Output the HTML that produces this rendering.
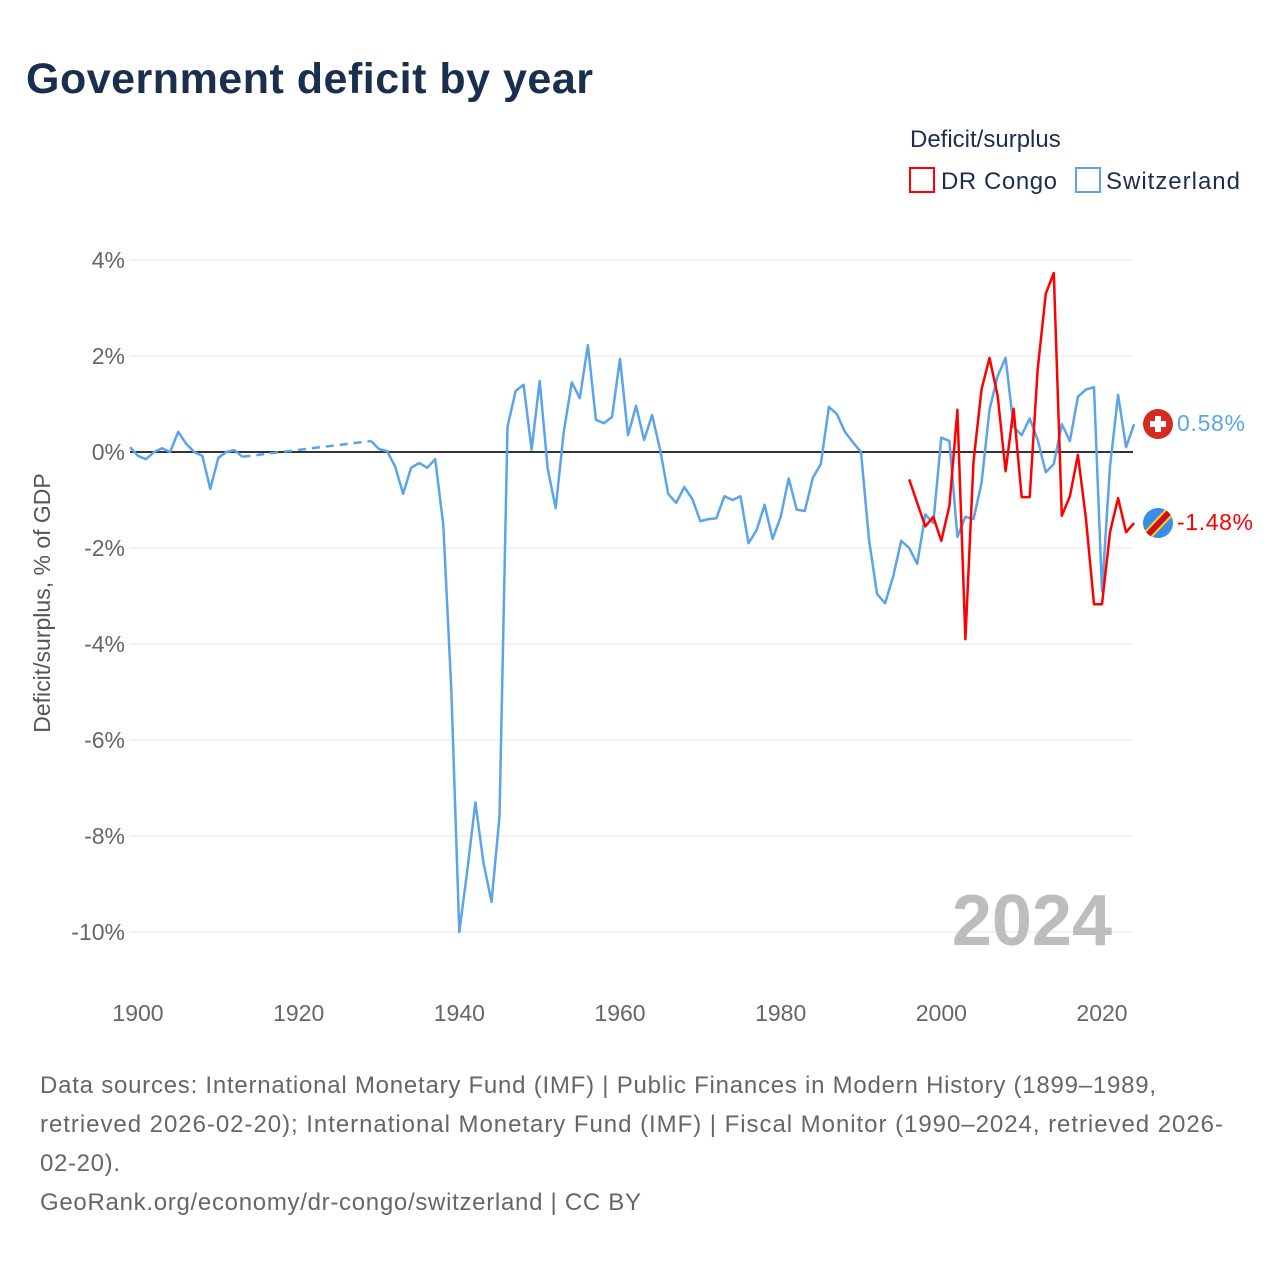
<!DOCTYPE html>
<html><head><meta charset="utf-8"><style>
body{margin:0;background:#fff;font-family:"Liberation Sans",sans-serif;}
#wrap{position:relative;width:1280px;height:1280px;overflow:hidden;}
</style></head><body>
<div id="wrap">
<svg id="chart" width="1280" height="1280" xmlns="http://www.w3.org/2000/svg" style="font-family:'Liberation Sans',sans-serif">
<text x="26" y="93" font-size="43" font-weight="bold" fill="#1a2e4d" textLength="567">Government deficit by year</text>
<text x="910" y="147" font-size="24" fill="#1a2e4d">Deficit/surplus</text>
<g><rect x="910" y="168" width="24" height="24" fill="none" stroke="#ff0000" stroke-width="2"/><text x="941" y="189" font-size="24" fill="#1a2e4d" textLength="116">DR Congo</text></g>
<g><rect x="1076" y="168" width="24" height="24" fill="none" stroke="#5ba4ea" stroke-width="2"/><text x="1106" y="189" font-size="24" fill="#1a2e4d" textLength="134">Switzerland</text></g>
<g id="grid"></g>
<g id="yticks"></g>
<g id="xticks"></g>
<text transform="translate(50,603) rotate(-90)" text-anchor="middle" font-size="23" fill="#555">Deficit/surplus, % of GDP</text>
<text x="1112" y="945" text-anchor="end" font-size="72" font-weight="bold" fill="#bdbdbd">2024</text>
<g id="series"></g>
<g>
<circle cx="1158" cy="424" r="15" fill="#d52b1e"/><rect x="1155" y="416" width="6" height="16" fill="#fff"/><rect x="1150" y="421" width="16" height="6" fill="#fff"/>
<text x="1177" y="431" font-size="23" fill="#5ba4ea" textLength="68">0.58%</text></g>
<g>
<clipPath id="cc"><circle cx="1158" cy="523" r="15"/></clipPath>
<g clip-path="url(#cc)"><rect x="1140" y="505" width="36" height="36" fill="#3a8de6"/><line x1="1142" y1="541" x2="1176" y2="505" stroke="#f7d618" stroke-width="10"/><line x1="1142" y1="541" x2="1176" y2="505" stroke="#ce1021" stroke-width="6"/></g>
<text x="1177" y="530" font-size="23" fill="#ff0000" textLength="76">-1.48%</text></g>
<text x="40" y="1093" font-size="24" fill="#666" textLength="1116">Data sources: International Monetary Fund (IMF) | Public Finances in Modern History (1899–1989,</text>
<text x="40" y="1132" font-size="24" fill="#666" textLength="1183">retrieved 2026-02-20); International Monetary Fund (IMF) | Fiscal Monitor (1990–2024, retrieved 2026-</text>
<text x="40" y="1171" font-size="24" fill="#666" textLength="80">02-20).</text>
<text x="40" y="1210" font-size="24" fill="#666" textLength="601">GeoRank.org/economy/dr-congo/switzerland | CC BY</text>
</svg></div>
<script>
const yTickValues=[4,2,0,-2,-4,-6,-8,-10];
const xTickYears=[1900,1920,1940,1960,1980,2000,2020];
const chYears1=[1899,1900,1901,1902,1903,1904,1905,1906,1907,1908,1909,1910,1911,1912,1913];
const chVals1=[0.1,-0.08,-0.15,0,0.08,0,0.42,0.17,0,-0.08,-0.77,-0.12,0,0.04,-0.1];
const chYears2=[1929,1930,1931,1932,1933,1934,1935,1936,1937,1938,1939,1940,1941,1942,1943,1944,1945,1946,1947,1948,1949,1950,1951,1952,1953,1954,1955,1956,1957,1958,1959,1960,1961,1962,1963,1964,1965,1966,1967,1968,1969,1970,1971,1972,1973,1974,1975,1976,1977,1978,1979,1980,1981,1982,1983,1984,1985,1986,1987,1988,1989,1990,1991,1992,1993,1994,1995,1996,1997,1998,1999,2000,2001,2002,2003,2004,2005,2006,2007,2008,2009,2010,2011,2012,2013,2014,2015,2016,2017,2018,2019,2020,2021,2022,2023,2024];
const chVals2=[0.23,0.06,0.02,-0.3,-0.87,-0.33,-0.23,-0.33,-0.15,-1.52,-4.95,-10,-8.7,-7.3,-8.55,-9.37,-7.6,0.52,1.27,1.4,0.05,1.48,-0.35,-1.17,0.43,1.45,1.12,2.23,0.67,0.6,0.73,1.94,0.35,0.96,0.25,0.77,0.04,-0.87,-1.06,-0.73,-0.98,-1.44,-1.4,-1.38,-0.92,-1.0,-0.92,-1.9,-1.63,-1.1,-1.81,-1.35,-0.55,-1.2,-1.23,-0.54,-0.25,0.94,0.79,0.42,0.2,0,-1.83,-2.96,-3.15,-2.6,-1.85,-2.0,-2.33,-1.3,-1.48,0.3,0.23,-1.77,-1.35,-1.4,-0.65,0.88,1.58,1.96,0.52,0.35,0.7,0.25,-0.42,-0.25,0.58,0.23,1.15,1.3,1.35,-2.9,-0.3,1.19,0.1,0.58];
const cdYears=[1996,1997,1998,1999,2000,2001,2002,2003,2004,2005,2006,2007,2008,2009,2010,2011,2012,2013,2014,2015,2016,2017,2018,2019,2020,2021,2022,2023,2024];
const cdVals=[-0.57,-1.06,-1.55,-1.35,-1.85,-1.12,0.88,-3.9,-0.2,1.3,1.96,1.18,-0.4,0.9,-0.94,-0.94,1.73,3.3,3.73,-1.33,-0.92,-0.06,-1.38,-3.17,-3.17,-1.67,-0.96,-1.67,-1.48];
const X=y=>138+(y-1900)*(964/120);
const Y=v=>452-48*v;
const NS='http://www.w3.org/2000/svg';
function mk(t,a,p){const e=document.createElementNS(NS,t);for(const k in a)e.setAttribute(k,a[k]);p.appendChild(e);return e;}
const grid=document.getElementById('grid'),yt=document.getElementById('yticks'),xt=document.getElementById('xticks'),ser=document.getElementById('series');
yTickValues.forEach(v=>{
 if(v!==0){const l=mk('line',{x1:130,x2:1133,y1:Y(v),y2:Y(v),stroke:'#e6e6e6','stroke-width':1},grid);
 
 }
 const t=mk('text',{x:125,y:Y(v)+8,'text-anchor':'end','font-size':23,fill:'#666'},yt);t.textContent=v+'%';
 
 
});
xTickYears.forEach(yr=>{const t=mk('text',{x:X(yr),y:1021,'text-anchor':'middle','font-size':23,fill:'#666'},xt);t.textContent=yr;
 
 });
const zl=mk('line',{x1:130,x2:1133,y1:Y(0),y2:Y(0),stroke:'#333','stroke-width':2},grid);


function pts(ys,vs){return ys.map((y,i)=>X(y).toFixed(1)+','+Y(vs[i]).toFixed(1)).join(' ');}
const s1=mk('polyline',{points:pts(chYears1,chVals1),fill:'none',stroke:'#5ba4ea','stroke-width':2.5,'stroke-linejoin':'round'},ser);


const gy=[chYears1[chYears1.length-1],chYears2[0]],gv=[chVals1[chVals1.length-1],chVals2[0]];
const gap=mk('polyline',{points:pts(gy,gv),fill:'none',stroke:'#5ba4ea','stroke-width':2.5,'stroke-dasharray':'8,6'},ser);


const s2=mk('polyline',{points:pts(chYears2,chVals2),fill:'none',stroke:'#5ba4ea','stroke-width':2.5,'stroke-linejoin':'round'},ser);


const c=mk('polyline',{points:pts(cdYears,cdVals),fill:'none',stroke:'#ff0000','stroke-width':2.5,'stroke-linejoin':'round'},ser);


</script></body></html>
